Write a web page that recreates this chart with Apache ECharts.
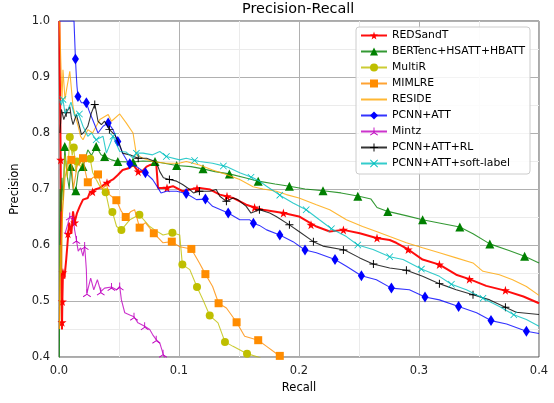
<!DOCTYPE html>
<html><head><meta charset="utf-8">
<script src="https://cdn.jsdelivr.net/npm/echarts@6/dist/echarts.min.js"></script>
<style>html,body{margin:0;padding:0;background:#fff}#c{width:554px;height:403px}</style>
</head><body><div id="c"></div>
<script>
const methodNames = ['REDSandT','BERTenc+HSATT+HBATT','MultiR','MIMLRE','RESIDE','PCNN+ATT','Mintz','PCNN+ATT+RL','PCNN+ATT+soft-label'];
const xTicks = [0.0,0.1,0.2,0.3,0.4];
const yTicks = [0.4,0.5,0.6,0.7,0.8,0.9,1.0];

const redsandt = [[0.0003,1.0],[0.0006,0.92],[0.001,0.85],[0.0014,0.752],[0.0017,0.62],[0.002,0.53],[0.0025,0.449],[0.0028,0.5],[0.0033,0.551],[0.0045,0.54],[0.006,0.574],[0.007,0.60],[0.0085,0.64],[0.0103,0.62],[0.0117,0.66],[0.013,0.64],[0.015,0.657],[0.0173,0.669],[0.02,0.681],[0.024,0.684],[0.0256,0.693],[0.03,0.699],[0.034,0.702],[0.0395,0.711],[0.045,0.717],[0.049,0.725],[0.053,0.734],[0.058,0.737],[0.062,0.743],[0.066,0.731],[0.069,0.731],[0.073,0.740],[0.076,0.743],[0.081,0.746],[0.0825,0.702],[0.0895,0.702],[0.095,0.705],[0.103,0.696],[0.109,0.699],[0.117,0.702],[0.126,0.699],[0.134,0.690],[0.145,0.684],[0.156,0.672],[0.1645,0.666],[0.170,0.663],[0.187,0.657],[0.2,0.651],[0.2145,0.633],[0.2256,0.624],[0.237,0.627],[0.2506,0.621],[0.2645,0.6125],[0.2756,0.609],[0.281,0.604],[0.291,0.592],[0.303,0.574],[0.317,0.565],[0.331,0.547],[0.342,0.539],[0.356,0.527],[0.371,0.519],[0.387,0.508],[0.4,0.496]];
const redsandtMarks = [[0.0014,0.752],[0.0025,0.462],[0.0028,0.499],[0.0033,0.551],[0.0075,0.62],[0.013,0.64],[0.028,0.695],[0.040,0.711],[0.066,0.731],[0.09,0.702],[0.115,0.701],[0.14,0.687],[0.163,0.667],[0.187,0.657],[0.21,0.636],[0.237,0.627],[0.265,0.6125],[0.291,0.592],[0.317,0.565],[0.342,0.539],[0.372,0.519]];

const bertenc = [[0.0002,0.3],[0.0006,0.62],[0.0009,0.70],[0.0015,0.66],[0.0025,0.72],[0.0035,0.68],[0.0048,0.776],[0.0065,0.729],[0.0085,0.70],[0.0098,0.74],[0.012,0.696],[0.014,0.697],[0.016,0.73],[0.02,0.74],[0.024,0.77],[0.027,0.76],[0.031,0.776],[0.035,0.761],[0.038,0.758],[0.0437,0.752],[0.049,0.749],[0.06,0.748],[0.07,0.750],[0.079,0.749],[0.09,0.745],[0.098,0.742],[0.11,0.740],[0.12,0.736],[0.13,0.731],[0.142,0.727],[0.155,0.720],[0.166,0.714],[0.18,0.709],[0.192,0.705],[0.205,0.700],[0.22,0.697],[0.235,0.693],[0.25,0.687],[0.26,0.682],[0.265,0.667],[0.274,0.660],[0.29,0.652],[0.303,0.645],[0.32,0.638],[0.334,0.632],[0.345,0.62],[0.359,0.602],[0.375,0.59],[0.388,0.58],[0.4,0.568]];
const bertencMarks = [[0.0048,0.776],[0.0098,0.74],[0.014,0.697],[0.02,0.74],[0.031,0.776],[0.038,0.758],[0.049,0.749],[0.0617,0.748],[0.08,0.749],[0.098,0.742],[0.12,0.736],[0.142,0.727],[0.166,0.714],[0.192,0.705],[0.22,0.697],[0.249,0.687],[0.274,0.660],[0.303,0.645],[0.334,0.632],[0.359,0.602],[0.388,0.58]];

const multir = [[0.0005,0.45],[0.001,0.6],[0.002,0.55],[0.003,0.67],[0.005,0.76],[0.007,0.72],[0.009,0.793],[0.011,0.76],[0.0123,0.774],[0.014,0.73],[0.015,0.749],[0.018,0.74],[0.022,0.76],[0.026,0.754],[0.028,0.73],[0.031,0.717],[0.034,0.705],[0.0389,0.694],[0.042,0.663],[0.0445,0.659],[0.048,0.633],[0.052,0.627],[0.059,0.645],[0.067,0.654],[0.0756,0.633],[0.0797,0.627],[0.0867,0.618],[0.0945,0.622],[0.1006,0.618],[0.1028,0.565],[0.109,0.556],[0.115,0.525],[0.12,0.502],[0.1256,0.474],[0.1325,0.461],[0.1383,0.427],[0.145,0.419],[0.1567,0.406],[0.1645,0.401],[0.168,0.398]];
const multirMarks = [[0.009,0.793],[0.0123,0.774],[0.015,0.749],[0.026,0.754],[0.0389,0.694],[0.0445,0.659],[0.052,0.627],[0.067,0.654],[0.0945,0.622],[0.1028,0.565],[0.115,0.525],[0.1256,0.474],[0.1383,0.427],[0.1567,0.406]];

const mimlre = [[0.0003,0.45],[0.001,0.55],[0.002,0.604],[0.003,0.66],[0.005,0.72],[0.0075,0.75],[0.0103,0.752],[0.012,0.70],[0.015,0.74],[0.02,0.755],[0.022,0.73],[0.024,0.712],[0.028,0.72],[0.0325,0.726],[0.036,0.70],[0.0395,0.708],[0.042,0.69],[0.0478,0.68],[0.052,0.66],[0.0556,0.65],[0.06,0.66],[0.063,0.663],[0.0672,0.631],[0.072,0.64],[0.079,0.621],[0.0867,0.604],[0.094,0.606],[0.1006,0.597],[0.1103,0.593],[0.117,0.568],[0.122,0.548],[0.128,0.526],[0.133,0.496],[0.1395,0.4875],[0.148,0.462],[0.1547,0.437],[0.166,0.430],[0.173,0.419],[0.1825,0.404],[0.186,0.398]];
const mimlreMarks = [[0.0103,0.752],[0.02,0.755],[0.024,0.712],[0.0325,0.726],[0.0478,0.68],[0.0556,0.65],[0.0672,0.631],[0.079,0.621],[0.094,0.606],[0.1103,0.593],[0.122,0.548],[0.133,0.496],[0.148,0.462],[0.166,0.430],[0.184,0.402]];

const reside = [[0.0005,1.0],[0.002,1.0],[0.0025,0.86],[0.0033,0.913],[0.005,0.86],[0.0065,0.88],[0.009,0.91],[0.0117,0.847],[0.0135,0.83],[0.016,0.812],[0.018,0.794],[0.02,0.788],[0.024,0.806],[0.028,0.80],[0.034,0.824],[0.041,0.833],[0.0437,0.821],[0.0506,0.834],[0.056,0.818],[0.0617,0.80],[0.063,0.782],[0.0645,0.761],[0.07,0.755],[0.078,0.749],[0.0895,0.746],[0.1,0.746],[0.106,0.749],[0.117,0.743],[0.128,0.734],[0.1395,0.726],[0.1506,0.717],[0.1617,0.704],[0.17,0.7],[0.181,0.696],[0.1895,0.69],[0.2,0.684],[0.2145,0.672],[0.2256,0.663],[0.2395,0.645],[0.253,0.633],[0.2645,0.624],[0.2756,0.615],[0.2895,0.604],[0.303,0.595],[0.317,0.586],[0.331,0.577],[0.345,0.568],[0.3533,0.553],[0.367,0.547],[0.378,0.538],[0.3895,0.526],[0.4,0.51]];

const pcnnatt = [[0.0005,1.0],[0.0125,1.0],[0.0137,0.932],[0.0145,0.90],[0.015,0.883],[0.0158,0.865],[0.0187,0.854],[0.0228,0.854],[0.025,0.84],[0.028,0.824],[0.0325,0.80],[0.0367,0.812],[0.041,0.818],[0.045,0.806],[0.049,0.785],[0.053,0.764],[0.058,0.746],[0.0645,0.740],[0.072,0.729],[0.078,0.717],[0.0825,0.702],[0.085,0.693],[0.0895,0.696],[0.098,0.696],[0.106,0.692],[0.1145,0.681],[0.122,0.682],[0.128,0.669],[0.141,0.657],[0.1506,0.645],[0.159,0.645],[0.162,0.639],[0.167,0.635],[0.173,0.627],[0.184,0.618],[0.195,0.606],[0.205,0.591],[0.2145,0.586],[0.23,0.574],[0.2395,0.562],[0.252,0.545],[0.2645,0.538],[0.277,0.523],[0.292,0.52],[0.305,0.507],[0.317,0.502],[0.333,0.49],[0.348,0.479],[0.36,0.465],[0.373,0.459],[0.3895,0.446],[0.4,0.442]];
const pcnnattMarks = [[0.0137,0.932],[0.0158,0.865],[0.0228,0.854],[0.041,0.818],[0.049,0.785],[0.059,0.745],[0.072,0.729],[0.106,0.692],[0.122,0.682],[0.141,0.657],[0.162,0.639],[0.184,0.618],[0.205,0.591],[0.23,0.574],[0.252,0.545],[0.277,0.523],[0.305,0.507],[0.333,0.49],[0.36,0.465],[0.3895,0.446]];

const mintz = [[0.005,0.62],[0.0075,0.639],[0.009,0.651],[0.0117,0.651],[0.013,0.627],[0.0145,0.609],[0.016,0.589],[0.018,0.595],[0.02,0.58],[0.0214,0.598],[0.0228,0.556],[0.0233,0.514],[0.0264,0.541],[0.029,0.520],[0.032,0.538],[0.0348,0.517],[0.038,0.523],[0.0437,0.525],[0.048,0.520],[0.0506,0.526],[0.052,0.502],[0.0548,0.479],[0.059,0.475],[0.0625,0.472],[0.0658,0.461],[0.0714,0.455],[0.0756,0.449],[0.078,0.44],[0.081,0.431],[0.084,0.425],[0.0853,0.416],[0.0867,0.406],[0.088,0.398]];
const mintzMarks = [[0.009,0.651],[0.0145,0.609],[0.0214,0.598],[0.0233,0.514],[0.0348,0.517],[0.0437,0.525],[0.0506,0.526],[0.0625,0.472],[0.0714,0.455],[0.081,0.431],[0.0867,0.406]];

const pcnnattrl = [[0.0008,0.80],[0.002,0.842],[0.004,0.824],[0.006,0.836],[0.009,0.847],[0.0103,0.827],[0.0117,0.815],[0.0145,0.833],[0.0167,0.815],[0.0187,0.797],[0.0214,0.803],[0.024,0.812],[0.027,0.836],[0.0298,0.851],[0.031,0.839],[0.0325,0.821],[0.0353,0.815],[0.038,0.821],[0.042,0.806],[0.0464,0.797],[0.0506,0.779],[0.053,0.764],[0.059,0.761],[0.066,0.755],[0.073,0.755],[0.08,0.749],[0.0825,0.740],[0.084,0.731],[0.087,0.72],[0.092,0.717],[0.098,0.714],[0.103,0.708],[0.109,0.699],[0.112,0.693],[0.117,0.696],[0.126,0.696],[0.131,0.699],[0.134,0.687],[0.1395,0.678],[0.145,0.684],[0.149,0.681],[0.156,0.669],[0.160,0.657],[0.167,0.663],[0.1756,0.657],[0.181,0.651],[0.192,0.636],[0.2,0.624],[0.212,0.606],[0.22,0.598],[0.238,0.591],[0.2506,0.577],[0.2617,0.566],[0.2756,0.559],[0.2895,0.555],[0.303,0.544],[0.317,0.531],[0.331,0.520],[0.345,0.511],[0.359,0.502],[0.372,0.489],[0.381,0.480],[0.4,0.476]];
const pcnnattrlMarks = [[0.006,0.836],[0.0298,0.851],[0.042,0.806],[0.066,0.755],[0.092,0.717],[0.117,0.696],[0.1395,0.678],[0.167,0.663],[0.192,0.636],[0.212,0.606],[0.237,0.591],[0.262,0.566],[0.2895,0.555],[0.317,0.531],[0.345,0.511],[0.372,0.489]];

const softlabel = [[0.0005,0.86],[0.002,0.85],[0.0033,0.86],[0.005,0.835],[0.0075,0.842],[0.01,0.855],[0.013,0.83],[0.016,0.836],[0.02,0.812],[0.024,0.794],[0.027,0.80],[0.031,0.788],[0.0367,0.794],[0.0395,0.764],[0.045,0.794],[0.0506,0.767],[0.056,0.766],[0.0617,0.755],[0.0645,0.764],[0.07,0.764],[0.078,0.761],[0.084,0.767],[0.0895,0.758],[0.1006,0.752],[0.106,0.755],[0.117,0.749],[0.128,0.746],[0.1395,0.740],[0.1506,0.729],[0.1617,0.720],[0.167,0.714],[0.173,0.705],[0.184,0.689],[0.195,0.675],[0.206,0.663],[0.217,0.645],[0.227,0.629],[0.2395,0.615],[0.249,0.600],[0.2617,0.592],[0.2756,0.579],[0.2867,0.574],[0.302,0.557],[0.317,0.544],[0.327,0.530],[0.3395,0.520],[0.3533,0.505],[0.367,0.490],[0.379,0.4755],[0.3895,0.467],[0.4,0.455]];
const softlabelMarks = [[0.0033,0.86],[0.017,0.834],[0.031,0.788],[0.045,0.794],[0.0645,0.764],[0.0895,0.758],[0.113,0.751],[0.137,0.741],[0.16,0.721],[0.184,0.689],[0.206,0.663],[0.227,0.629],[0.249,0.600],[0.2756,0.579],[0.302,0.557],[0.327,0.530],[0.3533,0.505],[0.379,0.4755]];

// styles
const STAR = 'path://M50,0 L61,35 L98,35 L68,57 L79,91 L50,70 L21,91 L32,57 L2,35 L39,35 Z';
const PLUS = 'path://M44,0 H56 V44 H100 V56 H56 V100 H44 V56 H0 V44 H44 Z';
const CROSS = 'path://M0,8 L8,0 L50,42 L92,0 L100,8 L58,50 L100,92 L92,100 L50,58 L8,100 L0,92 L42,50 Z';
const TRI = 'path://M45,0 H55 V47 L96,71 L91,79 L50,56 L9,79 L4,71 L45,47 Z';

const curves = [redsandt, bertenc, multir, mimlre, reside, pcnnatt, mintz, pcnnattrl, softlabel];
const marks = [redsandtMarks, bertencMarks, multirMarks, mimlreMarks, null, pcnnattMarks, mintzMarks, pcnnattrlMarks, softlabelMarks];
const colors = ['#ff0000','#008000','#bfbf00','#ff8c00','#ffa500','#0000ff','#bf00bf','#000000','#00bfbf'];
const symbols = [STAR,'triangle','circle','rect','none','diamond',TRI,PLUS,CROSS];
const symbolSizes = [9,9,8,8,0,[7,11],8,8,7];
const lineWidths = [2,1.1,1.1,1.1,1.1,1.1,1.1,1.1,1.1];

const FONT = 'DejaVu Sans';
const series = [];
methodNames.forEach((n,i)=>{
  const noMark = symbols[i]==='none';
  series.push({
    name:n, type:'line', data:curves[i], symbol: noMark?'circle':symbols[i],
    showSymbol:false, animation:false, silent:true,
    lineStyle:{color:colors[i], width:lineWidths[i], opacity:i===0?0.95:0.8},
    itemStyle:{color: noMark ? 'rgba(255,255,255,0)' : colors[i]}, z:2+i
  });
  if(marks[i]){
    series.push({
      name:n+' markers', type:'scatter', data:marks[i], symbol:symbols[i],
      symbolSize:symbolSizes[i], animation:false, silent:true,
      itemStyle:{color:colors[i], opacity:1}, z:2+i
    });
  }
});

const chart = echarts.init(document.getElementById('c'), null, {renderer:'canvas'});
chart.setOption({
  animation:false,
  backgroundColor:'#ffffff',
  title:{text:'Precision-Recall', left:242, top:2, padding:0,
    textStyle:{fontFamily:FONT, fontSize:14.4, fontWeight:'normal', color:'#000'}},
  grid:{left:59, right:15, top:21, bottom:46, show:true, borderColor:'#555', borderWidth:1, backgroundColor:'transparent'},
  legend:{
    orient:'vertical', left:356, top:27, padding:[3,5,5,4], itemGap:5,
    itemWidth:26, itemHeight:10, selectedMode:false,
    backgroundColor:'rgba(255,255,255,0.85)', borderColor:'#cccccc', borderWidth:1, borderRadius:3,
    textStyle:{fontFamily:FONT, fontSize:10.8, color:'#000'},
    data: methodNames.slice()
  },
  xAxis:{type:'value', min:xTicks[0], max:xTicks[xTicks.length-1], interval:0.1,
    name:'Recall', nameLocation:'middle', nameGap:25,
    nameTextStyle:{fontFamily:FONT, fontSize:11.5, color:'#000'},
    axisLine:{show:false}, axisTick:{show:false},
    axisLabel:{fontFamily:FONT, fontSize:11.5, color:'#222', margin:8, formatter:v=>v.toFixed(1)},
    splitLine:{show:true, lineStyle:{color:'#b0b0b0', width:1}},
    minorTick:{show:false, splitNumber:2},
    minorSplitLine:{show:true, lineStyle:{color:'#ebebeb', width:1}}
  },
  yAxis:{type:'value', min:yTicks[0], max:yTicks[yTicks.length-1], interval:0.1,
    name:'Precision', nameLocation:'middle', nameGap:27,
    nameTextStyle:{fontFamily:FONT, fontSize:11.5, color:'#000'},
    axisLine:{show:false}, axisTick:{show:false},
    axisLabel:{fontFamily:FONT, fontSize:11.5, color:'#222', margin:9, formatter:v=>v.toFixed(1)},
    splitLine:{show:true, lineStyle:{color:'#b0b0b0', width:1}},
    minorTick:{show:false, splitNumber:2},
    minorSplitLine:{show:true, lineStyle:{color:'#ebebeb', width:1}}
  },
  series: series
});
</script></body></html>
